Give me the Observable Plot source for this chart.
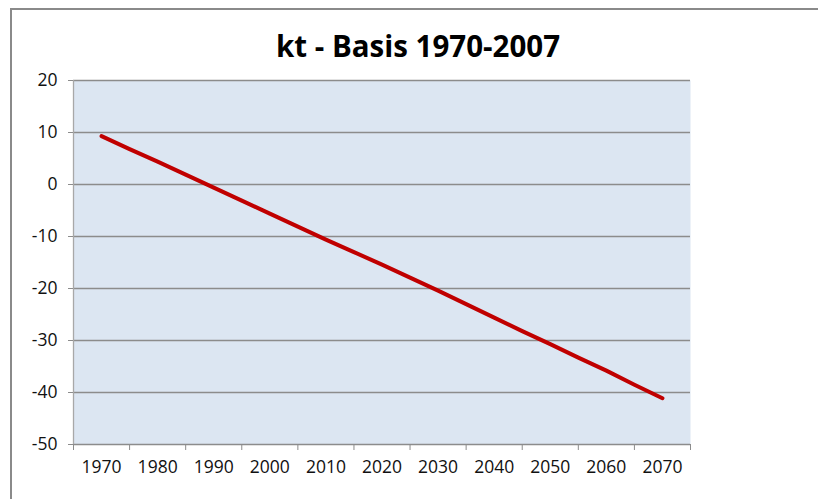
<!DOCTYPE html>
<html>
<head>
<meta charset="utf-8">
<script src="https://cdn.jsdelivr.net/npm/d3@7"></script>
<script src="https://cdn.jsdelivr.net/npm/@observablehq/plot@0.6"></script>
<style>
  html, body { margin: 0; padding: 0; background: #fff; }
  #wrap { position: relative; width: 818px; height: 499px; overflow: hidden; }
  #border { position: absolute; left: 10px; top: 8px; right: -4px; bottom: -4px;
            border-left: 2px solid #8a8a8a; border-top: 2px solid #8a8a8a; pointer-events: none; }
</style>
</head>
<body>
<div id="wrap"><div id="border"></div></div>
<script>
const titleText = "kt - Basis 1970-2007";
const years = [1970, 1975, 1980, 1985, 1990, 1995, 2000, 2005, 2010, 2015, 2020, 2025, 2030, 2035, 2040, 2045, 2050, 2055, 2060, 2065, 2070];
const kt = [9.3, 6.8, 4.4, 1.9, -0.6, -3.1, -5.6, -8.1, -10.6, -13.0, -15.4, -17.9, -20.4, -23.0, -25.6, -28.2, -30.7, -33.3, -35.8, -38.5, -41.1];
const yTicks = [20, 10, 0, -10, -20, -30, -40, -50];
const xLabels = [1970, 1980, 1990, 2000, 2010, 2020, 2030, 2040, 2050, 2060, 2070];
const xTickMarks = [1965, 1975, 1985, 1995, 2005, 2015, 2025, 2035, 2045, 2055, 2065, 2075];

const data = years.map((y, i) => ({year: y, kt: kt[i]}));
const font = "'Open Sans', sans-serif";

const chart = Plot.plot({
  width: 818,
  height: 499,
  marginLeft: 73,
  marginRight: 128,
  marginTop: 80,
  marginBottom: 55,
  style: {fontFamily: font, background: "transparent", overflow: "visible"},
  x: {domain: [1965, 2075], axis: null},
  y: {domain: [-50, 20], axis: null},
  marks: [
    Plot.frame({fill: "#dce6f2", stroke: null}),
    Plot.ruleY(yTicks, {stroke: "#8c8c8c", strokeWidth: 1.3, strokeOpacity: 1}),
    Plot.ruleX([1965], {stroke: "#a8a8a8", strokeWidth: 1.3}),
    Plot.axisY({ticks: yTicks, tickSize: 5, tickFormat: () => "", stroke: "#8c8c8c", label: null}),
    Plot.axisX({ticks: xTickMarks, tickSize: 6, tickFormat: () => "", stroke: "#8c8c8c", label: null}),
    Plot.text(yTicks, {y: d => d, frameAnchor: "left", dx: -16, textAnchor: "end", text: d => String(d), fontSize: 17.5, fill: "#111"}),
    Plot.text(xLabels, {x: d => d, frameAnchor: "bottom", dy: 28, text: d => String(d), fontSize: 17.5, fill: "#111"}),
    Plot.line(data, {x: "year", y: "kt", stroke: "#c00000", strokeWidth: 4, strokeLinecap: "round"}),
    Plot.text([titleText], {frameAnchor: "top", dx: 36, dy: -33, text: d => d, fontSize: 29.5, fontWeight: "bold", fill: "#000", lineAnchor: "middle"})
  ]
});
document.getElementById("wrap").prepend(chart);
</script>
</body>
</html>
